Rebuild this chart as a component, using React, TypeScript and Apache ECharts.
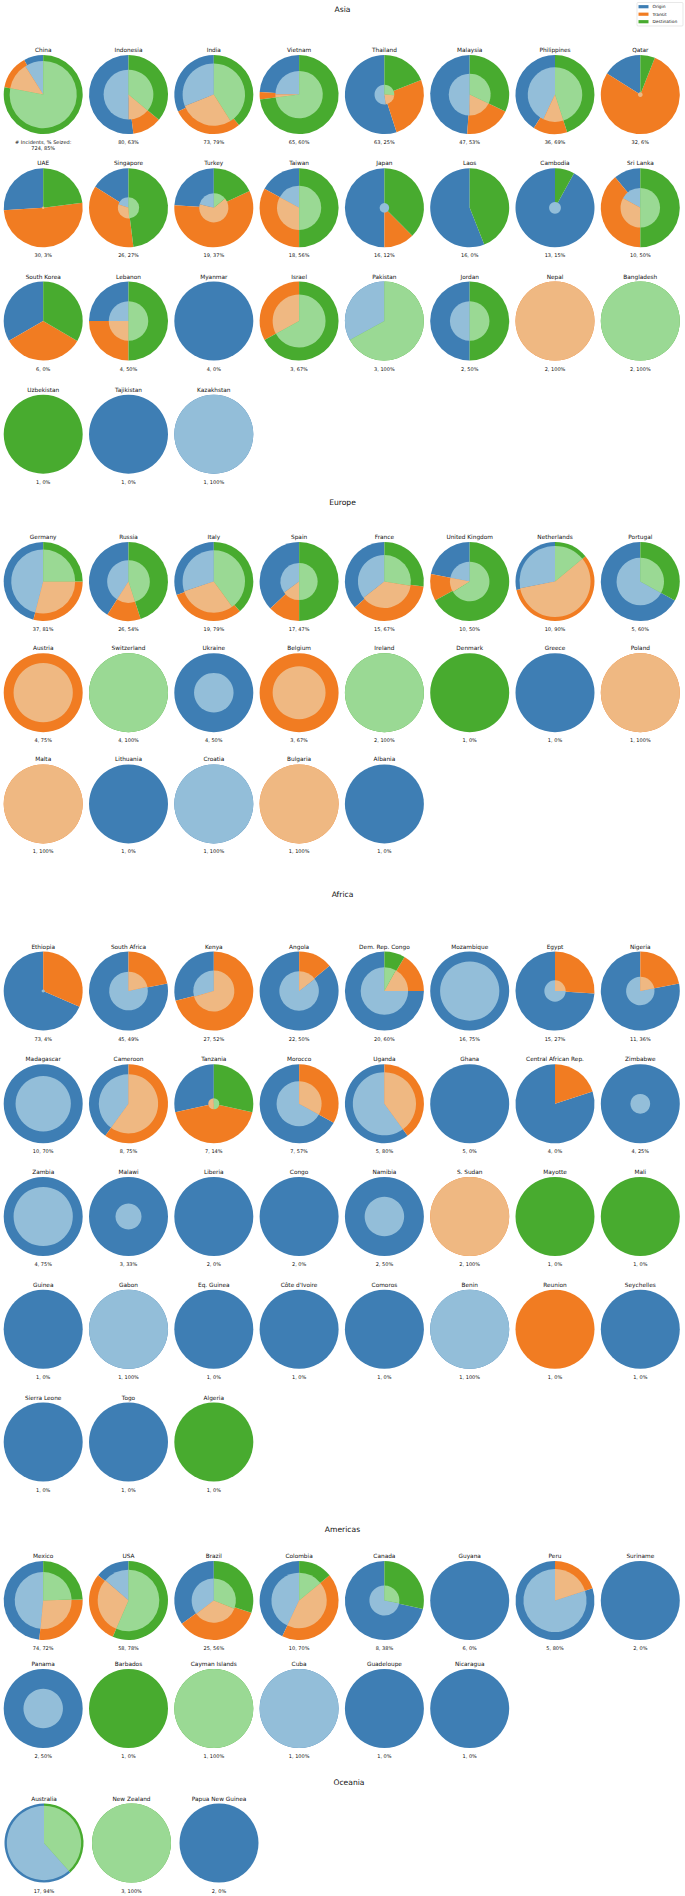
import React, { useEffect, useRef } from "react";
import * as echarts from "echarts";

// ---------- colours ----------
const ORIGIN = "#3e7eb4";
const TRANSIT = "#f17c22";
const DEST = "#48ab2f";
const ORIGIN_L = "#93bed9";
const TRANSIT_L = "#efb882";
const DEST_L = "#9ad994";
const legendNames = ["Origin", "Transit", "Destination"];

// ---------- data (shares in %: origin, transit, destination) ----------
const asiaNames = ["China", "Indonesia", "India", "Vietnam", "Thailand", "Malaysia", "Philippines", "Qatar",
  "UAE", "Singapore", "Turkey", "Taiwan", "Japan", "Laos", "Cambodia", "Sri Lanka",
  "South Korea", "Lebanon", "Myanmar", "Israel", "Pakistan", "Jordan", "Nepal", "Bangladesh",
  "Uzbekistan", "Tajikistan", "Kazakhstan"];
const asiaIncidents = [724, 80, 73, 65, 63, 47, 36, 32, 30, 26, 19, 18, 16, 16, 13, 10, 6, 4, 4, 3, 3, 2, 2, 2, 1, 1, 1];
const asiaSeized = [85, 63, 79, 60, 25, 53, 69, 6, 3, 27, 37, 56, 12, 0, 15, 50, 0, 50, 0, 67, 100, 50, 100, 100, 0, 0, 100];
const asiaOuter = [[8, 14, 78], [52, 12, 36], [32, 29, 39], [24, 3, 73], [55, 26, 19], [49, 19, 32], [41, 14, 45], [16, 78, 6],
  [26, 51, 23], [16, 36, 48], [24, 58, 18], [17, 33, 50], [50, 12.5, 37.5], [56, 0, 44], [92, 0, 8], [11, 39, 50],
  [33.3, 33.3, 33.4], [25, 25, 50], [100, 0, 0], [0, 33, 67], [33, 0, 67], [50, 0, 50], [0, 100, 0], [0, 0, 100],
  [0, 0, 100], [100, 0, 0], [100, 0, 0]];
const asiaInner = [[9, 13, 78], [50, 14, 36], [31, 28, 41], [25, 2, 73], [52, 22, 26], [50, 18, 32], [43, 12, 45], [0, 100, 0],
  [0, 100, 0], [20, 31, 49], [21, 65, 14], [17, 33, 50], [100, 0, 0], [0, 0, 0], [100, 0, 0], [17, 33, 50],
  [0, 0, 0], [25, 25, 50], [0, 0, 0], [0, 33, 67], [33, 0, 67], [50, 0, 50], [0, 100, 0], [0, 0, 100],
  [0, 0, 0], [0, 0, 0], [100, 0, 0]];

const europeNames = ["Germany", "Russia", "Italy", "Spain", "France", "United Kingdom", "Netherlands", "Portugal",
  "Austria", "Switzerland", "Ukraine", "Belgium", "Ireland", "Denmark", "Greece", "Poland",
  "Malta", "Lithuania", "Croatia", "Bulgaria", "Albania"];
const europeIncidents = [37, 26, 19, 17, 15, 10, 10, 5, 4, 4, 4, 3, 2, 1, 1, 1, 1, 1, 1, 1, 1];
const europeSeized = [81, 54, 79, 47, 67, 50, 90, 60, 75, 100, 50, 67, 100, 0, 0, 100, 100, 0, 100, 100, 0];
const europeOuter = [[46, 29, 25], [41, 14, 45], [30.5, 31, 38.5], [37, 13, 50], [36.5, 36.5, 27], [22, 11, 67], [28.5, 57.5, 14], [67, 0, 33],
  [0, 100, 0], [0, 0, 100], [100, 0, 0], [0, 100, 0], [0, 0, 100], [0, 0, 100], [100, 0, 0], [0, 100, 0],
  [0, 100, 0], [100, 0, 0], [100, 0, 0], [0, 100, 0], [100, 0, 0]];
const europeInner = [[46, 29, 25], [41, 14, 45], [30, 30, 40], [35, 15, 50], [35.5, 37, 27.5], [22, 12, 66], [28, 58, 14], [67, 0, 33],
  [0, 100, 0], [0, 0, 100], [100, 0, 0], [0, 100, 0], [0, 0, 100], [0, 0, 0], [0, 0, 0], [0, 100, 0],
  [0, 100, 0], [0, 0, 0], [100, 0, 0], [0, 100, 0], [0, 0, 0]];

const africaNames = ["Ethiopia", "South Africa", "Kenya", "Angola", "Dem. Rep. Congo", "Mozambique", "Egypt", "Nigeria",
  "Madagascar", "Cameroon", "Tanzania", "Morocco", "Uganda", "Ghana", "Central African Rep.", "Zimbabwe",
  "Zambia", "Malawi", "Liberia", "Congo", "Namibia", "S. Sudan", "Mayotte", "Mali",
  "Guinea", "Gabon", "Eq. Guinea", "Côte d'Ivoire", "Comoros", "Benin", "Reunion", "Seychelles",
  "Sierra Leone", "Togo", "Algeria"];
const africaIncidents = [73, 45, 27, 22, 20, 16, 15, 11, 10, 8, 7, 7, 5, 5, 4, 4, 4, 3, 2, 2, 2, 2, 1, 1, 1, 1, 1, 1, 1, 1, 1, 1, 1, 1, 1];
const africaSeized = [4, 49, 52, 50, 60, 75, 27, 36, 70, 75, 14, 57, 80, 0, 0, 25, 75, 33, 0, 0, 50, 100, 0, 0, 0, 100, 0, 0, 0, 100, 0, 0, 0, 0, 0];
const africaOuter = [[68.5, 31.5, 0], [78, 22, 0], [29, 71, 0], [86, 14, 0], [75, 16.5, 8.5], [100, 0, 0], [74, 26, 0], [78, 22, 0],
  [100, 0, 0], [40, 60, 0], [28.5, 43, 28.5], [67, 33, 0], [60, 40, 0], [100, 0, 0], [80, 20, 0], [100, 0, 0],
  [100, 0, 0], [100, 0, 0], [100, 0, 0], [100, 0, 0], [100, 0, 0], [0, 100, 0], [0, 0, 100], [0, 0, 100],
  [100, 0, 0], [100, 0, 0], [100, 0, 0], [100, 0, 0], [100, 0, 0], [100, 0, 0], [0, 100, 0], [100, 0, 0],
  [100, 0, 0], [100, 0, 0], [0, 0, 100]];
const africaInner = [[100, 0, 0], [78.5, 21.5, 0], [29.5, 70.5, 0], [85.5, 14.5, 0], [75, 17, 8], [100, 0, 0], [75, 25, 0], [78, 22, 0],
  [100, 0, 0], [40, 60, 0], [0, 50, 50], [67, 33, 0], [60, 40, 0], [0, 0, 0], [0, 0, 0], [100, 0, 0],
  [100, 0, 0], [100, 0, 0], [0, 0, 0], [0, 0, 0], [100, 0, 0], [0, 100, 0], [0, 0, 0], [0, 0, 0],
  [0, 0, 0], [100, 0, 0], [0, 0, 0], [0, 0, 0], [0, 0, 0], [100, 0, 0], [0, 0, 0], [0, 0, 0],
  [0, 0, 0], [0, 0, 0], [0, 0, 0]];

const americasNames = ["Mexico", "USA", "Brazil", "Colombia", "Canada", "Guyana", "Peru", "Suriname",
  "Panama", "Barbados", "Cayman Islands", "Cuba", "Guadeloupe", "Nicaragua"];
const americasIncidents = [74, 58, 25, 10, 8, 6, 5, 2, 2, 1, 1, 1, 1, 1];
const americasSeized = [72, 78, 56, 70, 38, 0, 80, 0, 50, 0, 100, 100, 0, 0];
const americasOuter = [[48.4, 27, 24.6], [14, 29.5, 56.5], [35, 35, 30], [43, 43, 14], [71.5, 0, 28.5], [100, 0, 0], [80, 20, 0], [100, 0, 0],
  [100, 0, 0], [0, 0, 100], [0, 0, 100], [100, 0, 0], [100, 0, 0], [100, 0, 0]];
const americasInner = [[48.5, 27, 24.5], [13.5, 30, 56.5], [35.5, 33.5, 31], [43, 43, 14], [72, 0, 28], [0, 0, 0], [80, 20, 0], [0, 0, 0],
  [100, 0, 0], [0, 0, 0], [0, 0, 100], [100, 0, 0], [0, 0, 0], [0, 0, 0]];

const oceaniaNames = ["Australia", "New Zealand", "Papua New Guinea"];
const oceaniaIncidents = [17, 3, 2];
const oceaniaSeized = [94, 100, 0];
const oceaniaOuter = [[61.6, 0, 38.4], [0, 0, 100], [100, 0, 0]];
const oceaniaInner = [[61.6, 0, 38.4], [0, 0, 100], [0, 0, 0]];

// ---------- layout ----------
const W = 685;
const H = 1896;
const R = 39.5;
const FONT = "DejaVu Sans";

type Section = {
  title: string; names: string[]; incidents: number[]; seized: number[]; outer: number[][]; inner: number[][];
  titleX: number; titleY: number; firstY: number; rowPitch: number; x0: number; colPitch: number;
};

const sections: Section[] = [
  { title: "Asia", names: asiaNames, incidents: asiaIncidents, seized: asiaSeized, outer: asiaOuter, inner: asiaInner,
    titleX: 342.5, titleY: 9.5, firstY: 94.6, rowPitch: 113.2, x0: 43.2, colPitch: 85.3 },
  { title: "Europe", names: europeNames, incidents: europeIncidents, seized: europeSeized, outer: europeOuter, inner: europeInner,
    titleX: 342.5, titleY: 502, firstY: 581.5, rowPitch: 111.2, x0: 43.2, colPitch: 85.3 },
  { title: "Africa", names: africaNames, incidents: africaIncidents, seized: africaSeized, outer: africaOuter, inner: africaInner,
    titleX: 342.5, titleY: 894, firstY: 991, rowPitch: 112.75, x0: 43.2, colPitch: 85.3 },
  { title: "Americas", names: americasNames, incidents: americasIncidents, seized: americasSeized, outer: americasOuter, inner: americasInner,
    titleX: 342.5, titleY: 1529, firstY: 1600.5, rowPitch: 108, x0: 43.2, colPitch: 85.3 },
  { title: "Oceania", names: oceaniaNames, incidents: oceaniaIncidents, seized: oceaniaSeized, outer: oceaniaOuter, inner: oceaniaInner,
    titleX: 349, titleY: 1782, firstY: 1843, rowPitch: 110, x0: 44, colPitch: 87.5 },
];

function pieSeries(cx: number, cy: number, r: number, shares: number[], colors: string[]) {
  return {
    type: "pie",
    center: [cx, cy],
    radius: [0, r],
    startAngle: 90,
    clockwise: false,
    silent: true,
    animation: false,
    avoidLabelOverlap: false,
    label: { show: false },
    labelLine: { show: false },
    emphasis: { disabled: true },
    itemStyle: { borderWidth: 0 },
    data: shares.map((v, i) => ({ value: v, name: legendNames[i], itemStyle: { color: colors[i], borderWidth: 0 } })),
  };
}

function buildOption() {
  const series: any[] = [];
  const graphics: any[] = [];
  const txt = (x: number, y: number, text: string, size: number) => ({
    type: "text", x, y, silent: true,
    style: { text, fontSize: size, fontFamily: FONT, fill: "#111", align: "center", verticalAlign: "middle" },
  });

  sections.forEach((s) => {
    graphics.push(txt(s.titleX, s.titleY, s.title, 7.6));
    s.names.forEach((name, i) => {
      const col = i % 8;
      const row = Math.floor(i / 8);
      const cx = s.x0 + col * s.colPitch;
      const cy = s.firstY + row * s.rowPitch;
      series.push(pieSeries(cx, cy, R, s.outer[i], [ORIGIN, TRANSIT, DEST]));
      if (s.seized[i] > 0) {
        series.push(pieSeries(cx, cy, R * s.seized[i] / 100, s.inner[i], [ORIGIN_L, TRANSIT_L, DEST_L]));
      }
      graphics.push(txt(cx, cy - 44.5, name, 5.8));
      const lbl = `${s.incidents[i]}, ${s.seized[i]}%`;
      if (s.title === "Asia" && i === 0) {
        graphics.push(txt(cx, cy + 47.2, "# Incidents, % Seized:", 5));
        graphics.push(txt(cx, cy + 52.9, lbl, 5));
      } else {
        graphics.push(txt(cx, cy + 47.5, lbl, 5));
      }
    });
  });

  // legend
  const lx = 637, ly = 2.5;
  graphics.push({ type: "rect", shape: { x: lx, y: ly, width: 46, height: 23.5, r: 1 }, style: { fill: "#fff", stroke: "#d8d8d8", lineWidth: 0.6 }, silent: true });
  [ORIGIN, TRANSIT, DEST].forEach((c, i) => {
    const yy = 6.7 + i * 7.5;
    graphics.push({ type: "rect", shape: { x: lx + 1.5, y: yy - 1.6, width: 10, height: 3.2 }, style: { fill: c }, silent: true });
    graphics.push({ type: "text", x: lx + 15.5, y: yy, silent: true,
      style: { text: legendNames[i], fontSize: 4.3, fontFamily: FONT, fill: "#111", align: "left", verticalAlign: "middle" } });
  });

  return { animation: false, backgroundColor: "#ffffff", series, graphic: { elements: graphics } };
}

export default function App() {
  const ref = useRef<HTMLDivElement>(null);
  useEffect(() => {
    if (!ref.current) return;
    const chart = echarts.init(ref.current, undefined, { renderer: "svg" });
    chart.setOption(buildOption() as any);
    return () => chart.dispose();
  }, []);
  return <div ref={ref} style={{ position: "absolute", left: 0, top: 0, width: W, height: H, background: "#fff" }} />;
}
